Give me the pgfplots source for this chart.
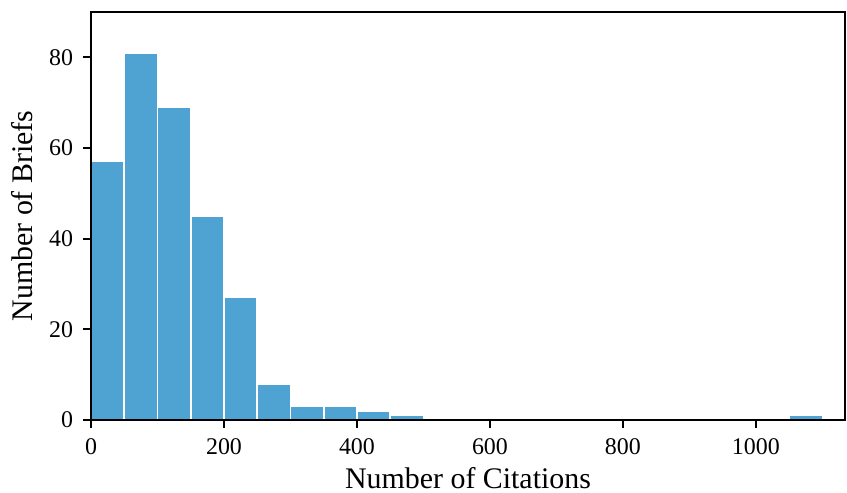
\documentclass[border=0pt]{standalone}
\usepackage{pgfplots}
\pgfplotsset{compat=1.18}
\usepackage{fontspec}
\setmainfont{Liberation Serif}
\definecolor{barblue}{HTML}{4FA3D2}

\begin{document}
\begin{tikzpicture}
\begin{axis}[
    scale only axis,
    width=377bp, height=204bp,
    xmin=0, xmax=1134,
    ymin=0, ymax=90,
    xtick={0,200,...,1000},
    ytick={0,20,...,80},
    tick align=outside,
    tick pos=left,
    major tick length=4bp,
    every tick/.style={black, line width=0.9pt},
    axis line style={line width=0.9pt},
    tick label style={font=\fontsize{12}{14}\selectfont},
    yticklabel style={xshift=-1.5bp},
    xticklabel style={yshift=-2bp},
    xlabel={Number of Citations},
    ylabel={Number of Briefs},
    every axis x label/.style={at={(axis description cs:0.5,0)}, anchor=base,
        yshift=-34.5bp, inner sep=0pt, font=\fontsize{15}{17}\selectfont},
    every axis y label/.style={at={(axis description cs:0,0.5)}, rotate=90, anchor=base,
        yshift=29bp, inner sep=0pt, font=\fontsize{15}{17}\selectfont},
    /pgf/number format/assume math mode=true,
    /pgf/number format/1000 sep={},
    axis on top,
]
% histogram, bin width 50 (left edges; last point closes the interval)
\addplot[ybar interval, fill=barblue, draw=white, line width=0.8pt] coordinates {
(0,57) (50,81) (100,69) (150,45) (200,27) (250,8) (300,3) (350,3)
(400,2) (450,1) (500,0) (550,0) (600,0) (650,0) (700,0) (750,0)
(800,0) (850,0) (900,0) (950,0) (1000,0) (1050,1) (1100,1)
};
\end{axis}
% margins around the axis box as in the reference
\path (current axis.south west) ++(-45.5bp,-36.5bp);
\path (current axis.north east) ++(1bp,6bp);
\end{tikzpicture}
\end{document}
